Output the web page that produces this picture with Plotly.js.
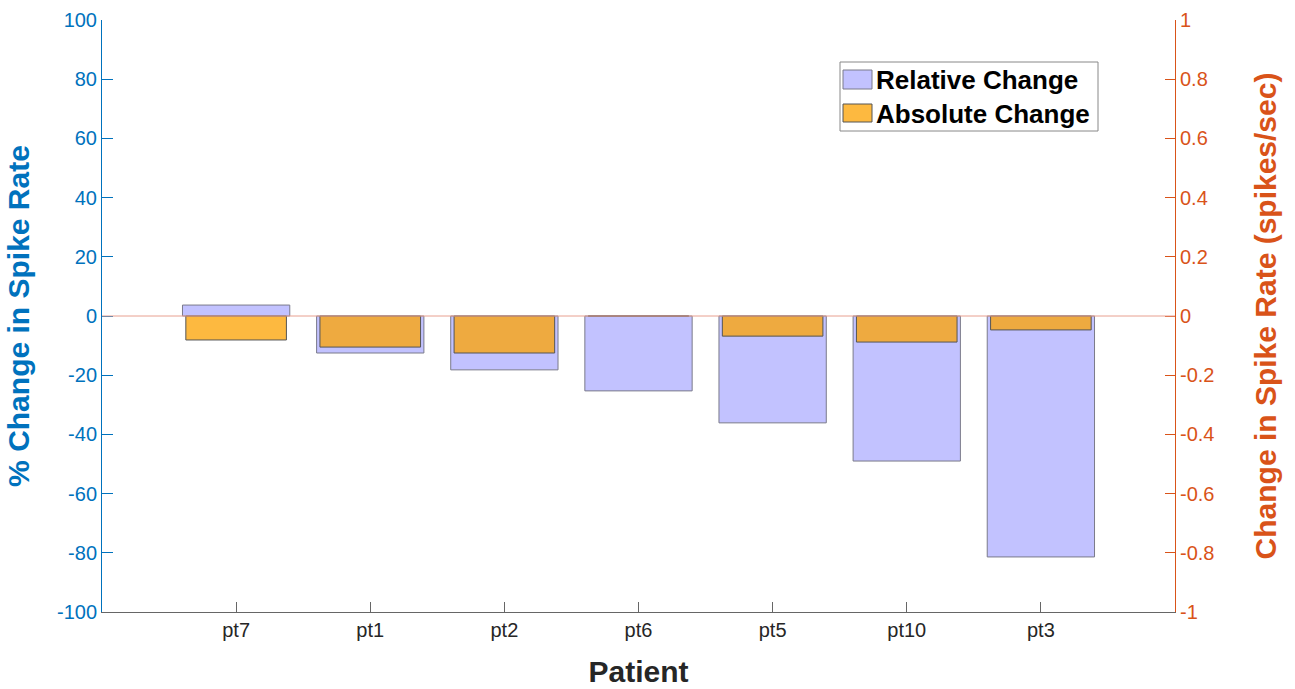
<!DOCTYPE html>
<html>
<head>
<meta charset="utf-8">
<script src="https://cdn.plot.ly/plotly-3.0.1.min.js"></script>
<style>html,body{margin:0;padding:0;background:#fff;}#chart{width:1295px;height:689px;}</style>
</head>
<body>
<div id="chart"></div>
<script>
const patients = ["pt7", "pt1", "pt2", "pt6", "pt5", "pt10", "pt3"];
const positions = [1, 2, 3, 4, 5, 6, 7];
const relativeChange = [3.7, -12.5, -18.2, -25.3, -36.1, -49.0, -81.4];
const absoluteChange = [-0.081, -0.105, -0.125, 0, -0.068, -0.088, -0.047];
const leftTicks = [-100, -80, -60, -40, -20, 0, 20, 40, 60, 80, 100];
const leftTickText = ["-100", "-80", "-60", "-40", "-20", "0", "20", "40", "60", "80", "100"];
const rightTicks = [-1, -0.8, -0.6, -0.4, -0.2, 0, 0.2, 0.4, 0.6, 0.8, 1];
const rightTickText = ["-1", "-0.8", "-0.6", "-0.4", "-0.2", "0", "0.2", "0.4", "0.6", "0.8", "1"];
const legendNames = ["Relative Change", "Absolute Change"];

const font = '"Liberation Sans", Arial, Helvetica, sans-serif';
const blue = '#0072BD';
const orange = '#D95319';
const relColor = '#C2C2FF';
const relEdge = '#7a7a8a';
const absColor = 'rgba(252,162,0,0.75)';
const absEdge = '#555555';

const traces = [
  {
    type: 'bar', name: legendNames[0], x: positions, y: relativeChange,
    width: 0.8, yaxis: 'y',
    marker: {color: relColor, line: {color: relEdge, width: 1}},
    hoverinfo: 'x+y', showlegend: false
  },
  {
    type: 'bar', name: legendNames[1], x: positions, y: absoluteChange,
    width: 0.75, yaxis: 'y2',
    marker: {color: absColor, line: {color: absEdge, width: 1}},
    hoverinfo: 'x+y', showlegend: false
  }
];

// legend box geometry in paper coordinates (plot area spans 102..1175 x, 20..612 y)
function px(x) { return (x - 102) / 1073; }
function py(y) { return (612 - y) / 592; }

const layout = {
  width: 1295, height: 689,
  margin: {l: 102, r: 120, t: 20, b: 77},
  paper_bgcolor: '#ffffff', plot_bgcolor: '#ffffff',
  barmode: 'overlay',
  font: {family: font, color: '#262626'},
  showlegend: false,
  xaxis: {
    range: [0, 8], tickvals: positions, ticktext: patients,
    ticks: 'inside', ticklen: 10, tickcolor: '#666666', tickwidth: 1,
    showline: true, linecolor: '#666666', linewidth: 1,
    showgrid: false, zeroline: false,
    tickfont: {family: font, size: 20, color: '#262626'},
    title: {text: 'Patient', font: {family: font, size: 30, color: '#262626', weight: 'bold'}, standoff: 20}
  },
  yaxis: {
    range: [-100, 100], tickvals: leftTicks, ticktext: leftTickText,
    ticks: 'inside', ticklen: 11, tickcolor: blue, tickwidth: 1,
    showline: true, linecolor: blue, linewidth: 1,
    showgrid: false, zeroline: false,
    tickfont: {family: font, size: 20, color: blue},
    title: {text: '% Change in Spike Rate', font: {family: font, size: 30, color: blue, weight: 'bold'}, standoff: 18}
  },
  yaxis2: {
    range: [-1, 1], tickvals: rightTicks, ticktext: rightTickText,
    overlaying: 'y', side: 'right',
    ticks: 'inside', ticklen: 10, tickcolor: orange, tickwidth: 1,
    showline: true, linecolor: orange, linewidth: 1,
    showgrid: false, zeroline: false,
    tickfont: {family: font, size: 20, color: orange},
    title: {text: 'Change in Spike Rate (spikes/sec)', font: {family: font, size: 30, color: orange, weight: 'bold'}, standoff: 41}
  },
  shapes: [
    {type: 'line', xref: 'paper', x0: 0, x1: 1, yref: 'y', y0: 0, y1: 0,
     line: {color: '#E8A090', width: 1}, layer: 'above'},
    {type: 'rect', xref: 'paper', yref: 'paper', x0: px(840), x1: px(1098), y0: py(131), y1: py(62),
     fillcolor: '#ffffff', line: {color: '#888888', width: 1}, layer: 'above'},
    {type: 'rect', xref: 'paper', yref: 'paper', x0: px(843), x1: px(872), y0: py(89), y1: py(70),
     fillcolor: relColor, line: {color: relEdge, width: 1}, layer: 'above'},
    {type: 'rect', xref: 'paper', yref: 'paper', x0: px(843), x1: px(872), y0: py(122), y1: py(104),
     fillcolor: absColor, line: {color: absEdge, width: 1}, layer: 'above'}
  ],
  annotations: [
    {xref: 'paper', yref: 'paper', x: px(874), y: py(80), xanchor: 'left', yanchor: 'middle',
     text: legendNames[0], showarrow: false,
     font: {family: font, size: 26, color: '#000000', weight: 'bold'}},
    {xref: 'paper', yref: 'paper', x: px(874), y: py(114), xanchor: 'left', yanchor: 'middle',
     text: legendNames[1], showarrow: false,
     font: {family: font, size: 26, color: '#000000', weight: 'bold'}}
  ]
};

Plotly.newPlot('chart', traces, layout, {displayModeBar: false, responsive: false});
</script>
</body>
</html>
